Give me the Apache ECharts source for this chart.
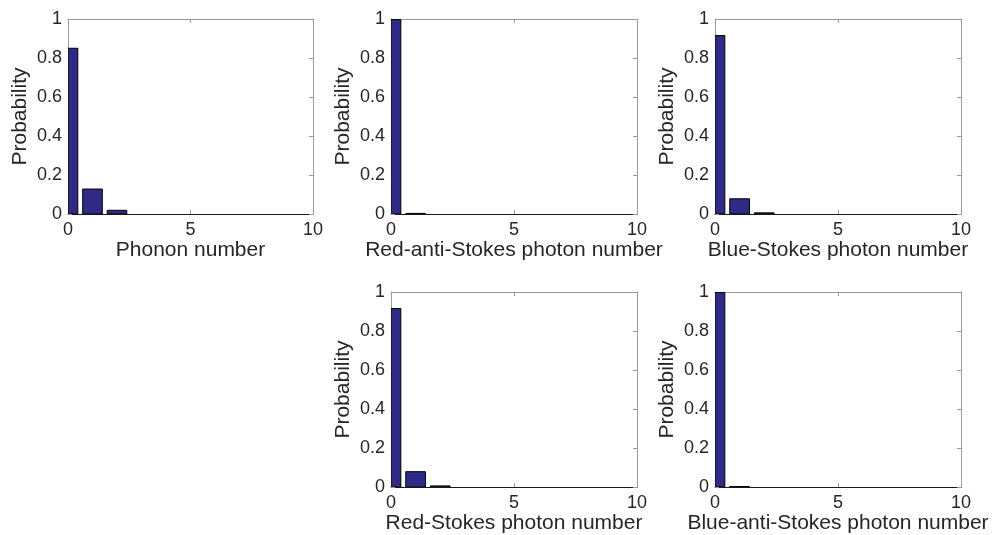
<!DOCTYPE html>
<html>
<head>
<meta charset="utf-8">
<script src="https://cdn.jsdelivr.net/npm/echarts@6/dist/echarts.min.js"></script>
<style>
  html, body { margin: 0; padding: 0; background: #fff; }
  #chart { width: 993px; height: 535px; }
</style>
</head>
<body>
<div id="chart"></div>
<script>
// Fock-state occupation probabilities for each mode
const fockNumbers = [0, 1, 2, 3, 4, 5, 6, 7, 8, 9, 10];
const phonon         = [0.850, 0.128, 0.019, 0, 0, 0, 0, 0, 0, 0, 0];
const redAntiStokes  = [0.997, 0.003, 0, 0, 0, 0, 0, 0, 0, 0, 0];
const blueStokes     = [0.915, 0.078, 0.006, 0, 0, 0, 0, 0, 0, 0, 0];
const redStokes      = [0.915, 0.079, 0.006, 0, 0, 0, 0, 0, 0, 0, 0];
const blueAntiStokes = [0.997, 0.003, 0, 0, 0, 0, 0, 0, 0, 0, 0];

const xTicks = [0, 5, 10];
const yTicks = [0, 0.2, 0.4, 0.6, 0.8, 1];
const yLabel = 'Probability';

const panels = [
  { name: 'Phonon number',                 values: phonon },
  { name: 'Red-anti-Stokes photon number', values: redAntiStokes },
  { name: 'Blue-Stokes photon number',     values: blueStokes },
  { name: 'Red-Stokes photon number',      values: redStokes },
  { name: 'Blue-anti-Stokes photon number',values: blueAntiStokes }
];

// plot-box placement of each panel
const boxes = [
  { left: 68,  top: 19,  width: 245, height: 195 },
  { left: 391, top: 19,  width: 246, height: 195 },
  { left: 715, top: 19,  width: 246, height: 195 },
  { left: 391, top: 292, width: 246, height: 196 },
  { left: 715, top: 292, width: 246, height: 196 }
];

const FONT = 'Liberation Sans, Arial, Helvetica, sans-serif';
const TEXT = '#262626';
const BOX = '#9a9a9a';
const BAR = '#2e2a86';
const BAR_WIDTH = 0.8;

const chart = echarts.init(document.getElementById('chart'), null, { renderer: 'canvas' });

const grid = [], xAxis = [], yAxis = [], series = [];

panels.forEach((p, i) => {
  const b = boxes[i];
  grid.push({ left: b.left, top: b.top, width: b.width, height: b.height,
              show: false, containLabel: false });

  const tickInside = { show: true, inside: true, length: 4, lineStyle: { color: BOX, width: 1 } };
  const xBase = { type: 'value', gridIndex: i, min: xTicks[0], max: xTicks[xTicks.length - 1],
                  interval: xTicks[1] - xTicks[0], splitLine: { show: false } };
  const yBase = { type: 'value', gridIndex: i, min: yTicks[0], max: yTicks[yTicks.length - 1],
                  interval: 0.2, splitLine: { show: false } };

  // bottom axis with labels and title
  xAxis.push(Object.assign({}, xBase, {
    position: 'bottom',
    axisLine: { show: true, onZero: false, lineStyle: { color: '#1a1a1a', width: 1 } },
    axisTick: tickInside,
    axisLabel: { show: true, color: TEXT, fontFamily: FONT, fontSize: 18, margin: 7 },
    name: p.name, nameLocation: 'middle', nameGap: 25,
    nameTextStyle: { color: TEXT, fontFamily: FONT, fontSize: 21 }
  }));
  // top mirror axis
  xAxis.push(Object.assign({}, xBase, {
    position: 'top',
    axisLine: { show: true, onZero: false, lineStyle: { color: BOX, width: 1 } },
    axisTick: tickInside,
    axisLabel: { show: false }
  }));
  // left axis with labels and title
  yAxis.push(Object.assign({}, yBase, {
    position: 'left',
    axisLine: { show: true, onZero: false, lineStyle: { color: BOX, width: 1 } },
    axisTick: tickInside,
    axisLabel: { show: true, color: TEXT, fontFamily: FONT, fontSize: 18, margin: 6,
                 formatter: v => (v === 0 || v === 1) ? String(v) : String(+v.toFixed(1)) },
    name: yLabel, nameLocation: 'middle', nameGap: 37, nameRotate: 90,
    nameTextStyle: { color: TEXT, fontFamily: FONT, fontSize: 21 }
  }));
  // right mirror axis
  yAxis.push(Object.assign({}, yBase, {
    position: 'right',
    axisLine: { show: true, onZero: false, lineStyle: { color: BOX, width: 1 } },
    axisTick: tickInside,
    axisLabel: { show: false }
  }));

  series.push({
    type: 'custom',
    xAxisIndex: 2 * i,
    yAxisIndex: 2 * i,
    data: fockNumbers.map((n, k) => [n, p.values[k]]),
    clip: true,
    renderItem: (params, api) => {
      const n = api.value(0), v = api.value(1);
      if (!(v > 0)) return null;
      const tl = api.coord([n - BAR_WIDTH / 2, v]);
      const br = api.coord([n + BAR_WIDTH / 2, 0]);
      const cs = params.coordSys;
      const shape = echarts.graphic.clipRectByRect(
        { x: tl[0], y: tl[1], width: br[0] - tl[0], height: br[1] - tl[1] },
        { x: cs.x, y: cs.y, width: cs.width, height: cs.height }
      );
      if (!shape) return null;
      return {
        type: 'rect',
        shape: shape,
        style: { fill: BAR, stroke: '#000', lineWidth: 1 }
      };
    }
  });
});

chart.setOption({
  backgroundColor: '#fff',
  animation: false,
  grid: grid,
  xAxis: xAxis,
  yAxis: yAxis,
  series: series
});
</script>
</body>
</html>
